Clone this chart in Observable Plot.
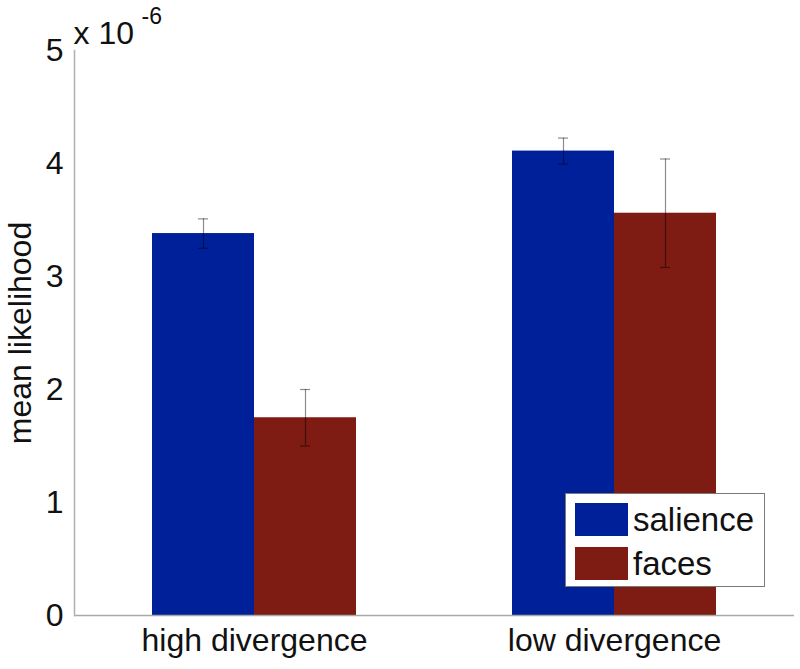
<!DOCTYPE html>
<html>
<head>
<meta charset="utf-8">
<script src="https://cdn.jsdelivr.net/npm/d3@7"></script>
<script src="https://cdn.jsdelivr.net/npm/@observablehq/plot@0.6"></script>
<style>
  html, body { margin: 0; padding: 0; background: #fff; }
  #chart { position: relative; width: 800px; height: 669px; font-family: "Liberation Sans", Arial, sans-serif; }
  #legend { position: absolute; left: 565px; top: 493px; width: 200px; height: 94px; box-sizing: border-box;
            border: 1.5px solid #7a7a7a; background: #fff; }
  .item { position: absolute; left: 9px; height: 33px; display: flex; align-items: center; }
  .sw { width: 53px; height: 33px; margin-right: 5px; }
  .lab { font-size: 33px; color: #111; line-height: 33px; }
</style>
</head>
<body>
<div id="chart"></div>
<script>
// ---- data (values in units of 1e-6) ----
const categories = ["high divergence", "low divergence"];
const series = ["salience", "faces"];
const salienceMean = [3.38, 4.11];
const salienceErr = [0.13, 0.115];
const facesMean = [1.75, 3.56];
const facesErr = [0.25, 0.48];
const colors = ["#00209a", "#7e1b12"];
const yTicks = [0, 1, 2, 3, 4, 5];
const yLabel = "mean likelihood";
const exponentBase = "x 10";
const exponentPower = "-6";

const means = {salience: salienceMean, faces: facesMean};
const errs = {salience: salienceErr, faces: facesErr};
const rows = categories.flatMap((c, i) => series.map(s => ({
  category: c, series: s, mean: means[s][i], err: errs[s][i]
})));

const font = "Liberation Sans, Arial, sans-serif";
const errStyle = {stroke: "black", strokeOpacity: 0.45, strokeWidth: 1.2};

const chart = Plot.plot({
  width: 800,
  height: 669,
  marginLeft: 74,
  marginRight: 6,
  marginTop: 50,
  marginBottom: 54,
  style: {fontFamily: font, background: "white", color: "#111"},
  fx: {domain: categories, padding: 0, label: null, axis: null},
  x: {domain: series, paddingInner: 0, paddingOuter: 0.75, axis: null},
  y: {domain: [0, 5], axis: null},
  color: {domain: series, range: colors},
  marks: [
    Plot.barY(rows, {fx: "category", x: "series", y: "mean", fill: "series"}),
    Plot.ruleX(rows, {fx: "category", x: "series", y1: d => d.mean - d.err, y2: d => d.mean + d.err, ...errStyle}),
    Plot.tickY(rows, {fx: "category", x: "series", y: d => d.mean + d.err, insetLeft: 46, insetRight: 46, ...errStyle}),
    Plot.tickY(rows, {fx: "category", x: "series", y: d => d.mean - d.err, insetLeft: 46, insetRight: 46, ...errStyle}),
    Plot.axisY({ticks: yTicks, tickFormat: d3.format("d"), tickSize: 0, tickPadding: 11, fontSize: 32,
      label: yLabel, labelAnchor: "center", labelOffset: 66, labelArrow: "none"}),
    Plot.axisFx({anchor: "bottom", tickSize: 0, tickPadding: 13, fontSize: 32, label: null}),
    Plot.ruleY([0], {stroke: "#a8a8a8", strokeWidth: 1.5}),
    Plot.frame({anchor: "left", facet: "super", stroke: "#b0b0b0", strokeWidth: 1.5}),
    Plot.text([exponentBase], {frameAnchor: "top-left", facet: "super", textAnchor: "start",
      lineAnchor: "bottom", dx: -1, dy: -7, fontSize: 32, fill: "#111"}),
    Plot.text([exponentPower], {frameAnchor: "top-left", facet: "super", textAnchor: "start",
      lineAnchor: "bottom", dx: 67, dy: -27, fontSize: 23, fill: "#111"})
  ]
});
const root = document.getElementById("chart");
root.appendChild(chart);

// legend (boxed, inside the plot area as in the original)
const legend = document.createElement("div");
legend.id = "legend";
series.forEach((s, i) => {
  const item = document.createElement("div");
  item.className = "item";
  item.style.top = (9 + i * 44) + "px";
  const sw = document.createElement("div");
  sw.className = "sw";
  sw.style.background = colors[i];
  const lab = document.createElement("span");
  lab.className = "lab";
  lab.textContent = s;
  item.appendChild(sw);
  item.appendChild(lab);
  legend.appendChild(item);
});
root.appendChild(legend);
</script>
</body>
</html>
